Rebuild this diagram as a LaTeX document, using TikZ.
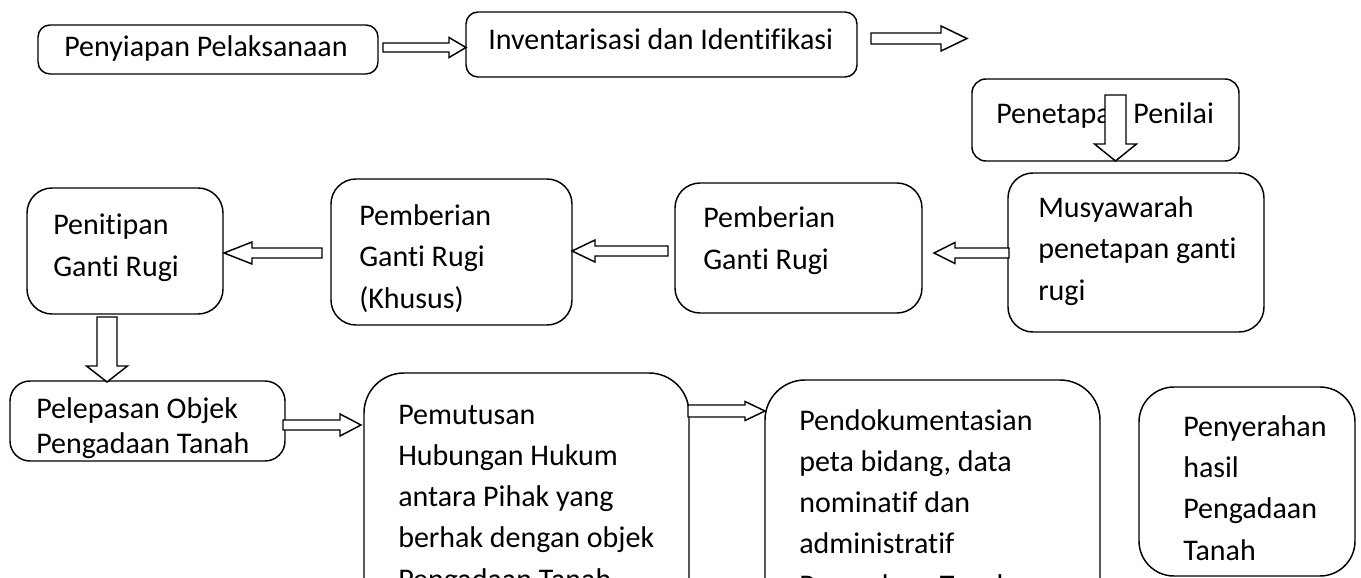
\documentclass[tikz,border=0pt]{standalone}
\usepackage{fontspec}
\setmainfont{Carlito}[Ligatures=NoCommon]
\tikzset{
  x=0.75pt, y=-0.75pt,
  rboxst/.style={draw, line width=1.1pt, inner sep=0pt},
  lbl/.style={anchor=base west, inner sep=0pt, align=left, font=\fontsize{22.5}{30.9}\selectfont},
  barrow/.style={draw, line width=1.1pt, fill=white, line join=miter},
}
\newcommand\rbox[6]{\node[rboxst, rounded corners={#6*0.75pt}, minimum width={(#4-#2)*0.75pt}, minimum height={(#5-#3)*0.75pt}] (#1) at ({(#2+#4)/2},{(#3+#5)/2}) {};}
\newcommand\harr[7]{%
  \coordinate (#1s) at (#2,#5); \coordinate (#1t) at (#3,#5);
  \draw[barrow] (#2,{#5-#6}) -- (#4,{#5-#6}) -- (#4,{#5-#7}) -- (#1t) -- (#4,{#5+#7}) -- (#4,{#5+#6}) -- (#2,{#5+#6}) -- cycle;}
\newcommand\varr[7]{%
  \coordinate (#1s) at (#5,#2); \coordinate (#1t) at (#5,#3);
  \draw[barrow] ({#5-#6},#2) -- ({#5-#6},#4) -- ({#5-#7},#4) -- (#1t) -- ({#5+#7},#4) -- ({#5+#6},#4) -- ({#5+#6},#2) -- cycle;}
\begin{document}
\begin{tikzpicture}
\useasboundingbox (0,0) rectangle (1361,578);
\clip (0,0) rectangle (1361,578);
% boxes
\rbox{b1}{38}{25}{378}{74}{12}
\rbox{b2}{466}{12}{857}{77}{12}
\rbox{b3}{972}{79}{1239}{161}{14}
\rbox{b4}{1008}{173}{1264}{332}{25}
\rbox{b5}{675}{183}{922}{313}{25}
\rbox{b6}{331}{179}{572}{325}{25}
\rbox{b7}{27}{188}{223}{314}{25}
\rbox{b8}{10}{381}{285}{461}{20}
\rbox{b9}{364}{373}{689}{640}{40}
\rbox{b10}{765}{380}{1100}{640}{40}
\rbox{b11}{1139}{387}{1355}{576}{35}
% texts (anchor = baseline of last line)
\node[lbl] (t1) at (64,56) {Penyiapan Pelaksanaan};
\node[lbl] (t2) at (488,50) {Inventarisasi dan Identifikasi};
\node[lbl] (t3) at (996,123) {Penetapan Penilai};
\node[lbl] (t4) at (1038,300) {Musyawarah\\penetapan ganti\\rugi};
\node[lbl] (t5) at (703,269) {Pemberian\\Ganti Rugi};
\node[lbl] (t6) at (359,308) {Pemberian\\Ganti Rugi\\(Khusus)};
\node[lbl] (t7) at (53,276) {Penitipan\\Ganti Rugi};
\node[lbl, font=\fontsize{22.5}{26}\selectfont] (t8) at (36,453) {Pelepasan Objek\\Pengadaan Tanah};
\node[lbl] (t9) at (398,589) {Pemutusan\\Hubungan Hukum\\antara Pihak yang\\berhak dengan objek\\Pengadaan Tanah};
\node[lbl] (t10) at (799,595) {Pendokumentasian\\peta bidang, data\\nominatif dan\\administratif\\Pengadaan Tanah};
\node[lbl] (t11) at (1183,560) {Penyerahan\\hasil\\Pengadaan\\Tanah};
% block arrows
\harr{a1}{383}{466}{449}{47.5}{4.5}{10}
\harr{a2}{871}{967}{941}{38.5}{5.5}{12.5}
\varr{a3}{95}{161}{144}{1115.5}{10.5}{21}
\harr{a4}{1009}{934}{955}{253}{5}{10.5}
\harr{a5}{668}{572}{595}{251}{5}{11}
\harr{a6}{322}{224}{252}{253}{5}{11}
\varr{a7}{317}{382}{366}{107}{10}{20.5}
\harr{a8}{283}{361}{340}{425}{5}{11}
\harr{a9}{688}{765}{745}{411}{6}{9.5}
\end{tikzpicture}
\end{document}
